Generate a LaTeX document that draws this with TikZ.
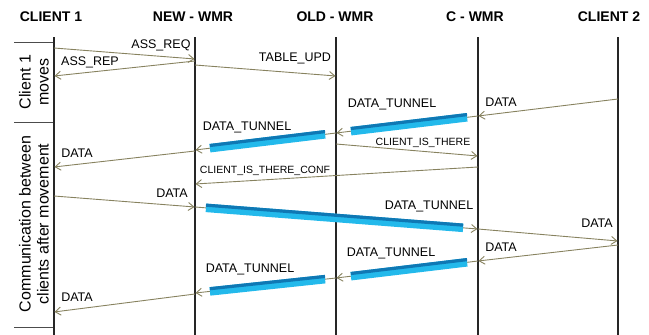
\documentclass[tikz,border=0pt]{standalone}
\usepackage{fontspec}
\setmainfont{Liberation Sans}
\setsansfont{Liberation Sans}
\usetikzlibrary{arrows.meta,positioning}
\definecolor{msgcol}{RGB}{135,130,95}
\definecolor{tubetop}{RGB}{15,120,180}
\definecolor{tubebody}{RGB}{35,185,235}
\tikzset{
    %Define standard arrow tip
    >={Straight Barb[length=5.5pt,width=8pt]},
    font=\sffamily,
    % Define style for lifelines
    lifeline/.style={draw=black!85, line width=2.2pt},
    % Define style for headers
    hdr/.style={font=\sffamily\bfseries\fontsize{14}{16}\selectfont, inner sep=0pt},
    % Define arrow style
    msg/.style={->, draw=msgcol, line width=0.9pt, shorten >=0.5pt},
    % Define style for message labels
    lbl/.style={font=\sffamily\fontsize{12.5}{14}\selectfont, inner sep=0pt},
    lblsmall/.style={font=\sffamily\fontsize{10.5}{12}\selectfont, inner sep=0pt},
    % Define style for tunnel bars
    tunnel/.style={draw=tubebody, line width=8.5pt, shorten <=11pt, shorten >=15pt,
        postaction={draw=tubetop, line width=3.2pt, shorten <=11pt, shorten >=15pt,
                    transform canvas={yshift=2.7pt}}},
    % Define style for phase labels
    phase/.style={font=\sffamily\fontsize{16}{18}\selectfont, rotate=90, align=center, inner sep=0pt},
    sep/.style={draw=black!70, line width=1pt}
}

\begin{document}
\begin{tikzpicture}[x=1pt,y=-1pt]
  \useasboundingbox (0,0) rectangle (649,335);
  % lifelines
  \foreach \nm/\xx in {c1/54,nw/195,ow/336,cw/478,c2/618}{
    \coordinate (\nm) at (\xx,37);
    \draw[lifeline] (\nm) -- (\nm |- 0,335);
  }
  \node[hdr] (h1) at (51,17) {CLIENT 1};
  \node[hdr] (h2) at (193,17) {NEW - WMR};
  \node[hdr] (h3) at (335,17) {OLD - WMR};
  \node[hdr] (h4) at (475,17) {C - WMR};
  \node[hdr] (h5) at (609,17) {CLIENT 2};

  % phases
  \draw[sep] (14,42) -- (53,42);
  \draw[sep] (14,122) -- (53,122);
  \draw[sep] (14,327) -- (53,327);
  \node[phase] (p1) at (34,82) {Client 1\\moves};
  \node[phase] (p2) at (34,224) {Communication between\\clients after movement};

  % client 1 moves
  \draw[msg] (c1 |- 0,48) -- (nw |- 0,59);
  \node[lbl] (l1) at (161,45) {ASS\_REQ};
  \draw[msg] (nw |- 0,61) -- (c1 |- 0,76);
  \node[lbl] (l2) at (90,62) {ASS\_REP};
  \draw[msg] (nw |- 0,65) -- (ow |- 0,76);
  \node[lbl] (l3) at (295,58) {TABLE\_UPD};

  % data from client 2
  \draw[msg] (c2 |- 0,99) -- (cw |- 0,116);
  \node[lbl] (l4) at (501,102) {DATA};
  \draw[msg] (cw |- 0,116) -- (ow |- 0,133);
  \draw[tunnel] (cw |- 0,116) -- (ow |- 0,133);
  \node[lbl] (l5) at (392,104) {DATA\_TUNNEL};
  \draw[msg] (ow |- 0,133) -- (nw |- 0,150);
  \draw[tunnel] (ow |- 0,133) -- (nw |- 0,150);
  \node[lbl] (l6) at (247,127) {DATA\_TUNNEL};
  \draw[msg] (nw |- 0,151) -- (c1 |- 0,167);
  \node[lbl] (l7) at (77,153) {DATA};
  \draw[msg] (ow |- 0,144) -- (cw |- 0,156);
  \node[lblsmall] (l8) at (423,143) {CLIENT\_IS\_THERE};
  \draw[msg] (cw |- 0,167) -- (nw |- 0,184);
  \node[lblsmall] (l9) at (265,171) {CLIENT\_IS\_THERE\_CONF};

  % data from client 1
  \draw[msg] (c1 |- 0,196) -- (nw |- 0,207);
  \node[lbl] (l10) at (172,193) {DATA};
  \draw[msg] (nw |- 0,207) -- (cw |- 0,229);
  \draw[tunnel] (nw |- 0,207) -- (cw |- 0,229);
  \node[lbl] (l11) at (429,206) {DATA\_TUNNEL};
  \draw[msg] (cw |- 0,229) -- (c2 |- 0,241);
  \node[lbl] (l12) at (597,223) {DATA};

  % answer of client 2
  \draw[msg] (c2 |- 0,245) -- (cw |- 0,261);
  \node[lbl] (l13) at (501,247) {DATA};
  \draw[msg] (cw |- 0,261) -- (ow |- 0,278);
  \draw[tunnel] (cw |- 0,261) -- (ow |- 0,278);
  \node[lbl] (l14) at (391,253) {DATA\_TUNNEL};
  \draw[msg] (ow |- 0,278) -- (nw |- 0,293);
  \draw[tunnel] (ow |- 0,278) -- (nw |- 0,293);
  \node[lbl] (l15) at (250,269) {DATA\_TUNNEL};
  \draw[msg] (nw |- 0,294) -- (c1 |- 0,312);
  \node[lbl] (l16) at (77,297) {DATA};
\end{tikzpicture}
\end{document}
